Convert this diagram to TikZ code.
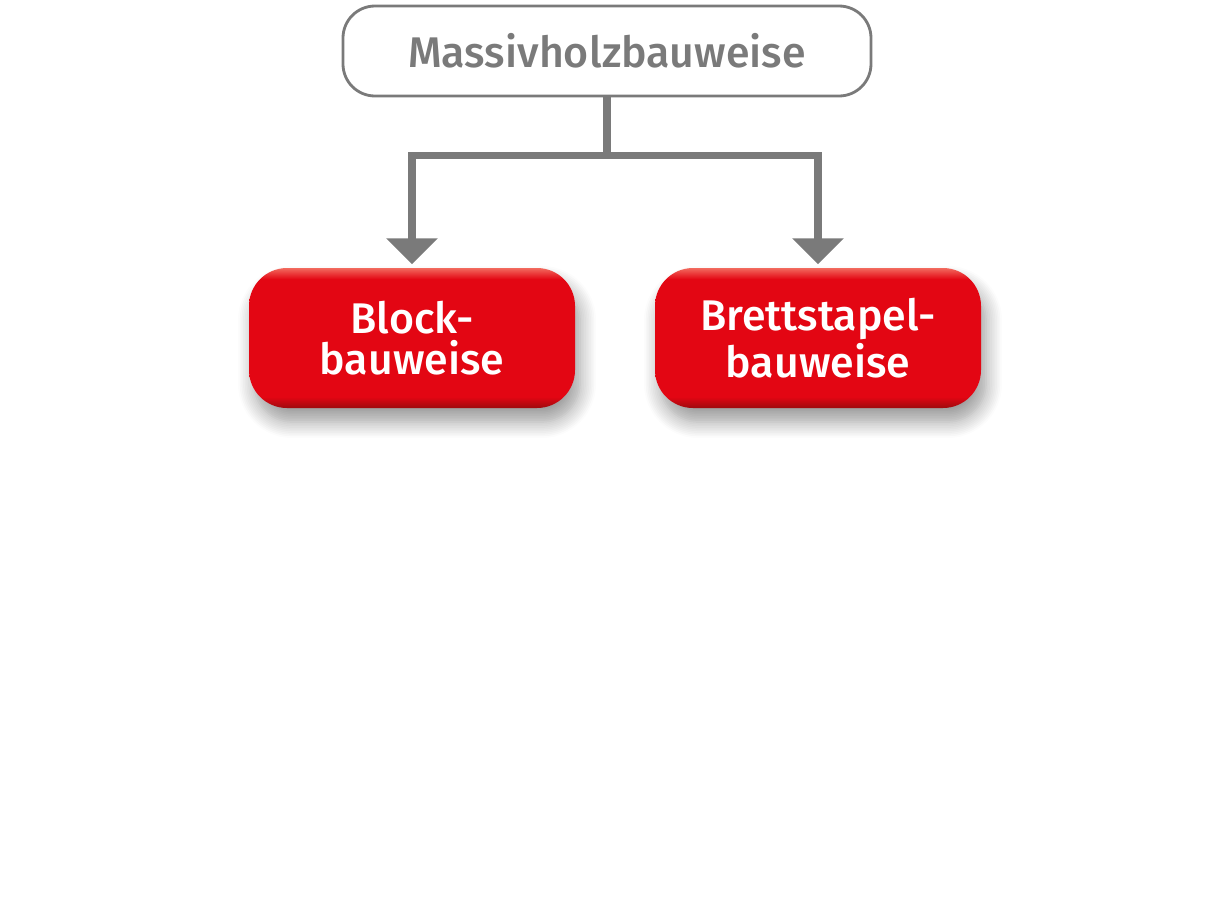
\documentclass[tikz,border=0pt]{standalone}
\usepackage{fontspec}
\setmainfont{Fira Sans}[BoldFont={Fira Sans Medium}]
\usetikzlibrary{arrows.meta,positioning,shadows.blur}
\definecolor{linegray}{HTML}{7A7A7A}
\definecolor{boxred}{HTML}{E30613}
\definecolor{darkred}{HTML}{9E0A0E}
\definecolor{lightred}{HTML}{F26A5E}
\pgfdeclareverticalshading{redbutton}{100bp}{color(0bp)=(darkred); color(25bp)=(darkred); color(29bp)=(boxred); color(71bp)=(boxred); color(75bp)=(lightred); color(100bp)=(lightred)}
\begin{document}
\begin{tikzpicture}[
    topbox/.style={draw=linegray, line width=0.8pt, fill=white, rounded corners=0.32cm,
      minimum width=5.28cm, minimum height=0.9cm, text=linegray, font=\bfseries\fontsize{12.2}{15}\selectfont},
    redbox/.style={shading=redbutton, rounded corners=0.38cm, minimum width=3.26cm, minimum height=1.4cm,
      align=center, text=white, font=\bfseries\fontsize{12.2}{11.7}\selectfont,
      blur shadow={shadow xshift=0.5mm, shadow yshift=-1.4mm, shadow blur radius=1.6mm, shadow blur steps=10, shadow opacity=40}},
    conn/.style={linegray, line width=2pt}
  ]
  \useasboundingbox (0,0) rectangle (12.23,9.05); % Frame of the page

  % Nodes
  \node[topbox] (massiv) at (6.07,8.54) {Massivholzbauweise};
  \node[redbox] (block) at (4.12,5.67) {Block-\\bauweise};
  \node[redbox] (brett) at (8.18,5.67) {Brettstapel-\\bauweise};

  % Connectors
  \draw[conn] (massiv.south) -- ++(0,-0.58) coordinate (split); % Stem below the top box
  \draw[conn, -{Triangle[width=0.5cm, length=0.26cm]}] (split) -| ([yshift=0.3mm]block.north);
  \draw[conn, -{Triangle[width=0.5cm, length=0.26cm]}] (split) -| ([yshift=0.3mm]brett.north);
\end{tikzpicture}
\end{document}
